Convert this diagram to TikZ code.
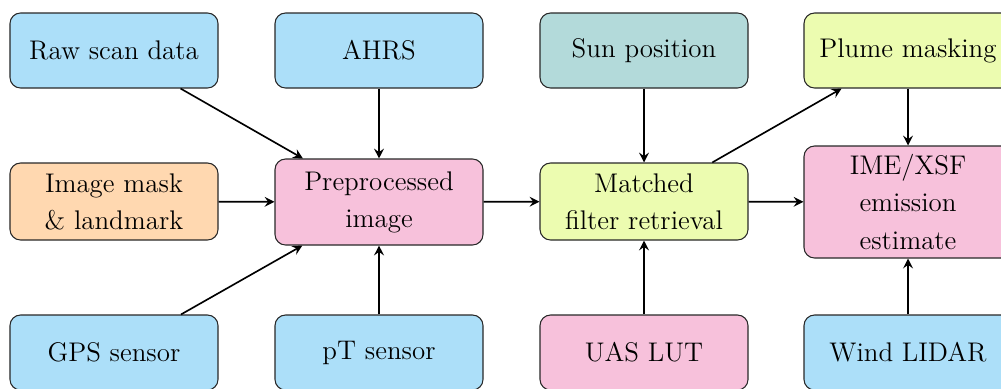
\documentclass[tikz,border=0pt]{standalone}
\usetikzlibrary{arrows.meta}
\definecolor{cblue}{RGB}{172,223,249}
\definecolor{corange}{RGB}{255,216,176}
\definecolor{cteal}{RGB}{179,218,218}
\definecolor{clime}{RGB}{236,252,176}
\definecolor{cpink}{RGB}{247,193,219}
\definecolor{cline}{RGB}{40,40,40}
\tikzset{
  box/.style={draw=cline, line width=0.45pt, rounded corners=4.5pt, minimum width=3.12cm,
    minimum height=1.125cm, align=center, inner sep=0pt,
    font=\fontsize{11.5}{15.8}\selectfont},
  conn/.style={-{Stealth[length=4.2pt,width=4.2pt,inset=1.5pt]}, line width=0.7pt, black},
}
\begin{document}
\begin{tikzpicture}[x=0.015cm, y=-0.015cm]
\useasboundingbox (0,0) rectangle (1001,388);
\node[box, fill=cblue] (raw) at (114,50.5) {Raw scan data};
\node[box, fill=cblue] (ahrs) at (379,50.5) {AHRS};
\node[box, fill=cteal] (sun) at (644,50.5) {Sun position};
\node[box, fill=clime] (plume) at (908,50.5) {Plume masking};
\node[box, fill=corange, minimum height=1.155cm] (mask) at (114,201.5) {Image mask\\\& landmark};
\node[box, fill=cpink, minimum height=1.29cm] (pre) at (379,202) {Preprocessed\\image};
\node[box, fill=clime, minimum height=1.155cm] (mf) at (644,201.5) {Matched\\filter retrieval};
\node[box, fill=cpink, minimum height=1.68cm] (ime) at (908,202) {IME/XSF\\emission\\estimate};
\node[box, fill=cblue] (gps) at (114,352.5) {GPS sensor};
\node[box, fill=cblue] (pt) at (379,352.5) {pT sensor};
\node[box, fill=cpink] (uas) at (644,352.5) {UAS LUT};
\node[box, fill=cblue] (wind) at (908,352.5) {Wind LIDAR};
\draw[conn] (raw) -- (pre);
\draw[conn] (ahrs) -- (pre);
\draw[conn] (mask) -- (pre);
\draw[conn] (gps) -- (pre);
\draw[conn] (pt) -- (pre);
\draw[conn] (pre) -- (mf);
\draw[conn] (sun) -- (mf);
\draw[conn] (uas) -- (mf);
\draw[conn] (mf) -- (plume);
\draw[conn] (plume) -- (ime);
\draw[conn] (mf) -- (ime);
\draw[conn] (wind) -- (ime);
\end{tikzpicture}
\end{document}
